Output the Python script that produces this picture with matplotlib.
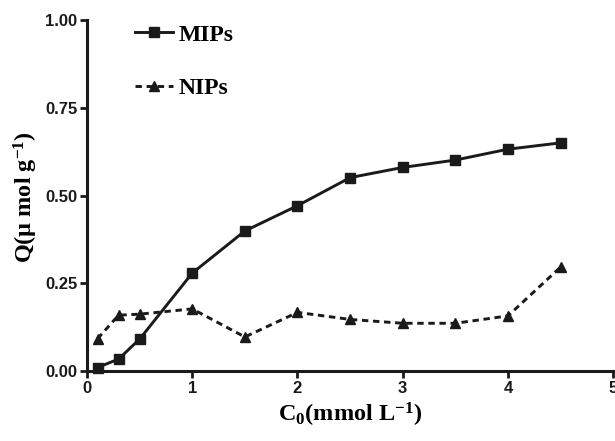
import matplotlib
matplotlib.use("Agg")
import matplotlib.pyplot as plt

# concentration C0 (mmol/L)
c0 = [0.1, 0.3, 0.5, 1.0, 1.5, 2.0, 2.5, 3.0, 3.5, 4.0, 4.5]
# adsorption Q (umol/g)
q_mips = [0.01, 0.034, 0.091, 0.279, 0.399, 0.471, 0.551, 0.58, 0.601, 0.632, 0.65]
q_nips = [0.092, 0.159, 0.162, 0.177, 0.097, 0.167, 0.147, 0.136, 0.136, 0.157, 0.296]

x_ticks = [0, 1, 2, 3, 4, 5]
y_ticks = [0.0, 0.25, 0.5, 0.75, 1.0]

plt.rcParams['mathtext.fontset'] = 'custom'
plt.rcParams['mathtext.rm'] = 'Liberation Serif:bold'
plt.rcParams['mathtext.default'] = 'rm'

serif = {'family': 'Liberation Serif', 'weight': 'bold', 'size': 17.5}

fig = plt.figure(figsize=(6.15, 4.41), dpi=100)
ax = fig.add_axes([0.1415, 0.1587, 0.8555, 0.7959])

ax.plot(c0, q_mips, color='#1a1a1a', lw=2.1, marker='s', ms=6.5, label='MIPs', clip_on=False)
ax.plot(c0, q_nips, color='#1a1a1a', lw=2.1, ls=(0, (2.2, 1.6)), marker='^', ms=7,
        label='NIPs', clip_on=False)

ax.set_xlim(0, 5)
ax.set_ylim(0, 1.0)
ax.set_xticks(x_ticks)
ax.set_yticks(y_ticks)
ax.set_xticklabels([str(v) for v in x_ticks])
ax.set_yticklabels([f'{v:.2f}' for v in y_ticks])

for s in ['top', 'right']:
    ax.spines[s].set_visible(False)
for s in ['left', 'bottom']:
    ax.spines[s].set_linewidth(2.2)
    ax.spines[s].set_color('#1a1a1a')

ax.tick_params(direction='out', length=5, width=2, color='#1a1a1a', pad=2)
for lab in ax.get_xticklabels() + ax.get_yticklabels():
    lab.set_fontfamily('Liberation Sans')
    lab.set_fontweight('bold')
    lab.set_fontsize(12)
    lab.set_color('#1a1a1a')

ax.set_xlabel('C$_0$(mmol L$^{-1}$)', fontdict=serif, labelpad=4)
ax.set_ylabel('Q(\u03bc mol g$^{-1}$)', fontdict=serif, labelpad=0)
ax.yaxis.set_label_coords(-0.09, 0.495)

leg = ax.legend(loc='upper left', bbox_to_anchor=(0.0913, 0.988), frameon=False,
                prop={'family': 'Liberation Serif', 'weight': 'bold', 'size': 17},
                handlelength=1.6, handletextpad=0.25, labelspacing=1.35,
                borderpad=0, borderaxespad=0)

fig.savefig('out.png', dpi=100)
